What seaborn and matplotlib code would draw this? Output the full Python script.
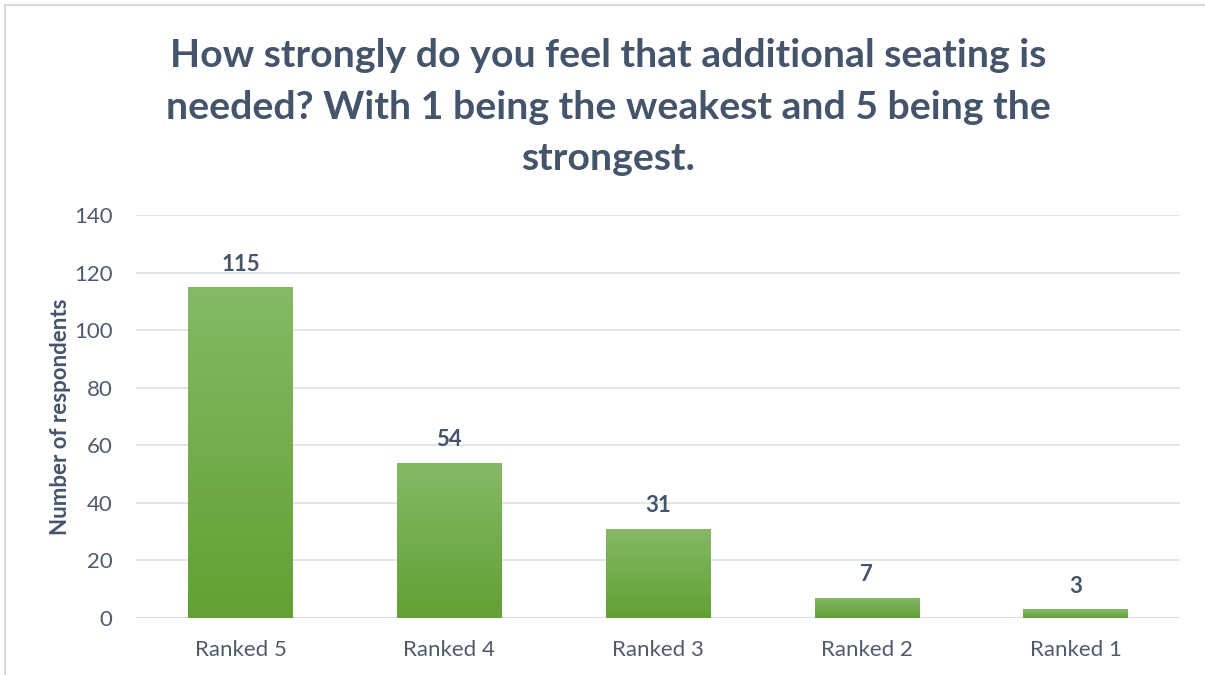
import matplotlib.pyplot as plt
import numpy as np
import seaborn as sns
from matplotlib.lines import Line2D

categories = ["Ranked 5", "Ranked 4", "Ranked 3", "Ranked 2", "Ranked 1"]
counts = [115, 54, 31, 7, 3]

title = ("How strongly do you feel that additional seating is\n"
         "needed? With 1 being the weakest and 5 being the\nstrongest.")

sns.set_style("white")
plt.rcParams['font.family'] = ['Lato', 'DejaVu Sans']

dark = "#44546A"
tick_col = "#4f5b6d"

fig = plt.figure(figsize=(12.05, 6.75), dpi=100)
ax = fig.add_axes([0.1129, 0.0844, 0.8664, 0.597])

sns.barplot(x=categories, y=counts, color="#70AD47", width=0.5, ax=ax)

# gradient fill on bars (light top -> darker bottom)
grad = np.linspace(0, 1, 256).reshape(-1, 1)
cmap = sns.blend_palette(["#62A033", "#86B966"], as_cmap=True)
for p in ax.patches:
    x0, y0 = p.get_x(), p.get_y()
    w, h = p.get_width(), p.get_height()
    im = ax.imshow(grad, extent=[x0, x0 + w, y0, y0 + h], origin="lower",
                   cmap=cmap, aspect="auto", zorder=p.get_zorder())
    im.set_clip_path(p)
    p.set_edgecolor("none")

for i, v in enumerate(counts):
    ax.annotate(str(v), (i, v), xytext=(0, 9), textcoords="offset points",
                ha="center", va="bottom", fontsize=16, fontweight="bold", color=dark)

ax.set_xlim(-0.5, 4.5)
ax.set_ylim(0, 140)
ax.set_yticks(range(0, 141, 20))
ax.yaxis.grid(True, color="#dde2e8", linewidth=1.2)
ax.set_axisbelow(True)
sns.despine(ax=ax, left=True, top=True, right=True, bottom=True)
ax.axhline(0, color="#d5dbe3", linewidth=1.5, zorder=0.5)
ax.tick_params(axis="both", length=0, labelsize=16, labelcolor=tick_col)
ax.tick_params(axis="x", pad=16)
ax.tick_params(axis="y", pad=17)
ax.set_ylabel("Number of respondents", fontsize=16, fontweight="bold", color=dark, labelpad=2)
ax.set_xlabel("")

fig.text(0.505, 0.943, title, ha="center", va="top", fontsize=28.3, fontweight="bold",
         color=dark, linespacing=1.56)

# chart frame (top and left edges visible)
fig.add_artist(Line2D([0.004, 1.0], [0.992, 0.992], color="#d9d9d9", linewidth=1.5, transform=fig.transFigure))
fig.add_artist(Line2D([0.004, 0.004], [0.0, 0.992], color="#d9d9d9", linewidth=1.5, transform=fig.transFigure))

fig.savefig("out.png", dpi=100)
